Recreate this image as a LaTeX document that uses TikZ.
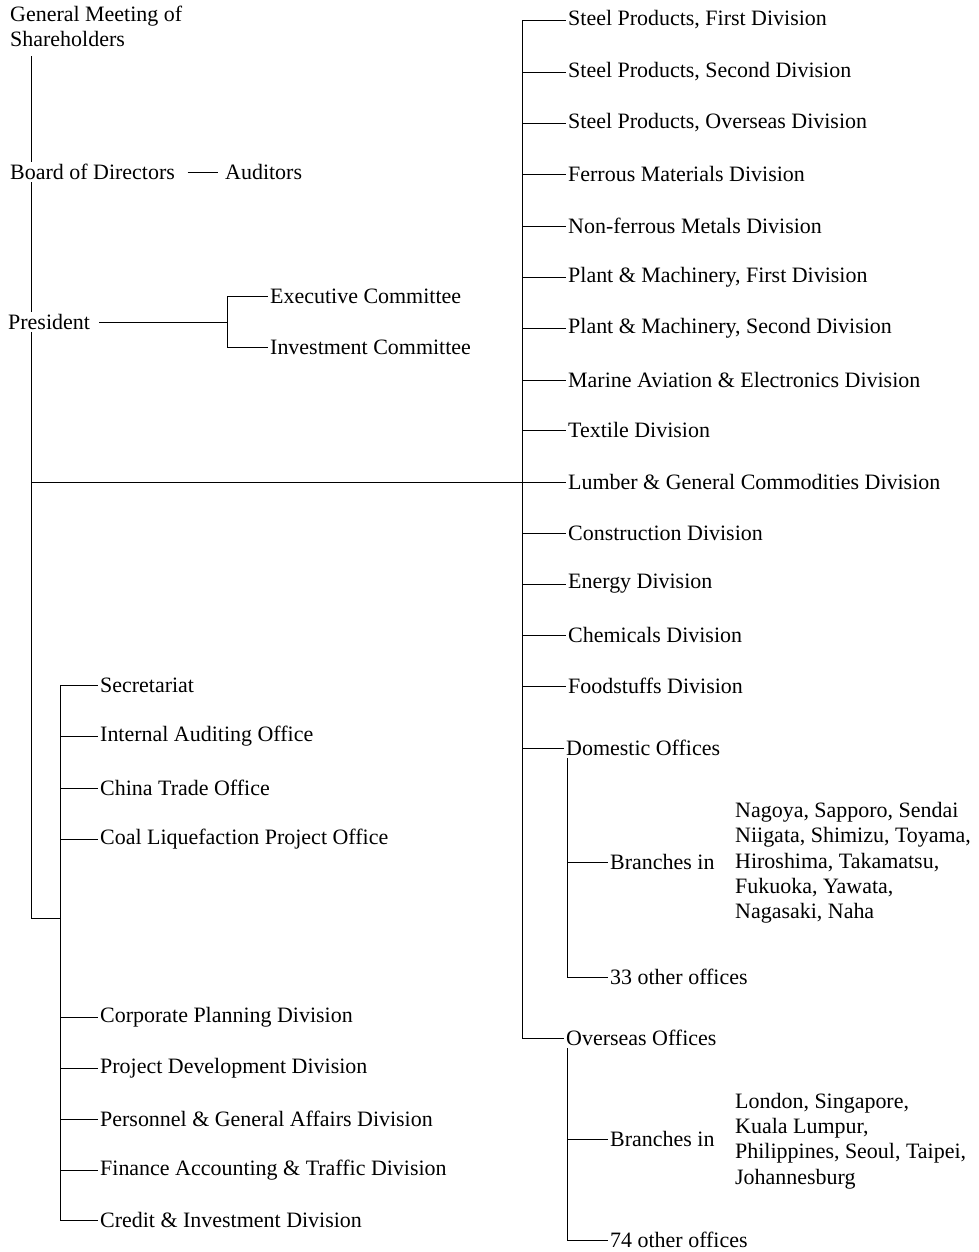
\documentclass[tikz,border=0pt]{standalone}
\usepackage{fontspec}
\setmainfont{Liberation Serif}
\usetikzlibrary{calc,positioning}

\begin{document}
\begin{tikzpicture}[
		x=0.02cm, y=-0.02cm,
		font=\fontsize{12.5}{14.4}\selectfont,
		every node/.style={anchor=west, inner sep=1pt},
		every path/.style={line width=0.5pt}
	]
	\useasboundingbox (0,0) rectangle (979,1252);
	\coordinate (spine) at (31,0);
	\coordinate (rtrunk) at (522,0);
	\coordinate (subtrunk) at (567,0);
	\coordinate (ltrunk) at (60,0);
	\coordinate (fork) at (227,0);
	\coordinate (staff) at (60,918);
	\node [anchor=north west, align=left] (meeting) at (8,4) {General Meeting of\\Shareholders};
	\node [] (board) at (8,172) {Board of Directors};
	\node [] (auditors) at (223,172) {Auditors};
	\node [] (president) at (6,322) {President};
	\node [] (exec) at (268,296) {Executive Committee};
	\node [] (invest) at (268,347) {Investment Committee};
	\foreach \name/\y/\txt in {
			d1/20/{Steel Products, First Division},
			d2/72/{Steel Products, Second Division},
			d3/123/{Steel Products, Overseas Division},
			d4/174/{Ferrous Materials Division},
			d5/226/{Non-ferrous Metals Division},
			d6/277/{Plant \& Machinery, First Division},
			d7/328/{Plant \& Machinery, Second Division},
			d8/380/{Marine Aviation \& Electronics Division},
			d9/430/{Textile Division},
			d10/482/{Lumber \& General Commodities Division},
			d11/533/{Construction Division},
			d12/584/{Energy Division},
			d13/635/{Chemicals Division},
			d14/686/{Foodstuffs Division}}
		\node [] (\name) at (566,\y) {\txt};
	\node [] (domestic) at (564,748) {Domestic Offices};
	\node [] (overseas) at (564,1038) {Overseas Offices};
	\node [] (dbranch) at (608,862) {Branches in};
	\node [align=left] (dcities) at (733,863) {Nagoya, Sapporo, Sendai\\Niigata, Shimizu, Toyama,\\Hiroshima, Takamatsu,\\Fukuoka, Yawata,\\Nagasaki, Naha};
	\node [] (dother) at (608,977) {33 other offices};
	\node [] (obranch) at (608,1139) {Branches in};
	\node [align=left] (ocities) at (733,1141) {London, Singapore,\\Kuala Lumpur,\\Philippines, Seoul, Taipei,\\Johannesburg};
	\node [] (oother) at (608,1240) {74 other offices};
	\foreach \name/\y/\txt in {
			s1/685/Secretariat,
			s2/736/Internal Auditing Office,
			s3/788/China Trade Office,
			s4/839/Coal Liquefaction Project Office,
			s5/1017/Corporate Planning Division,
			s6/1068/Project Development Division,
			s7/1119/Personnel \& General Affairs Division,
			s8/1170/Finance Accounting \& Traffic Division,
			s9/1220/Credit \& Investment Division}
		\node [] (\name) at (98,\y) {\txt};
	\draw ([yshift=-4pt]spine |- meeting.south) -- (spine |- board.north);
	\draw (spine |- board.south) -- (spine |- president.north);
	\draw (spine |- president.south) -- (spine |- staff) -- (staff);
	\draw ([xshift=6pt]board.east) -- ([xshift=-3pt]auditors.west);
	\draw ([xshift=4pt]president.east) -- (fork |- president);
	\draw (fork |- exec) -- (fork |- invest);
	\foreach \n in {exec,invest}
		\draw (fork |- \n.west) -- (\n.west);
	\draw (spine |- d10.west) -- (rtrunk |- d10.west);
	\draw (rtrunk |- d1.west) -- (rtrunk |- overseas.west);
	\foreach \n in {d1,d2,d3,d4,d5,d6,d7,d8,d9,d10,d11,d12,d13,d14,domestic,overseas}
		\draw (rtrunk |- \n.west) -- (\n.west);
	\draw (subtrunk |- domestic.south) -- (subtrunk |- dother.west) -- (dother.west);
	\draw (subtrunk |- dbranch.west) -- (dbranch.west);
	\draw (subtrunk |- overseas.south) -- (subtrunk |- oother.west) -- (oother.west);
	\draw (subtrunk |- obranch.west) -- (obranch.west);
	\draw (ltrunk |- s1.west) -- (ltrunk |- s9.west);
	\foreach \n in {s1,s2,s3,s4,s5,s6,s7,s8,s9}
		\draw (ltrunk |- \n.west) -- (\n.west);
\end{tikzpicture}
\end{document}
